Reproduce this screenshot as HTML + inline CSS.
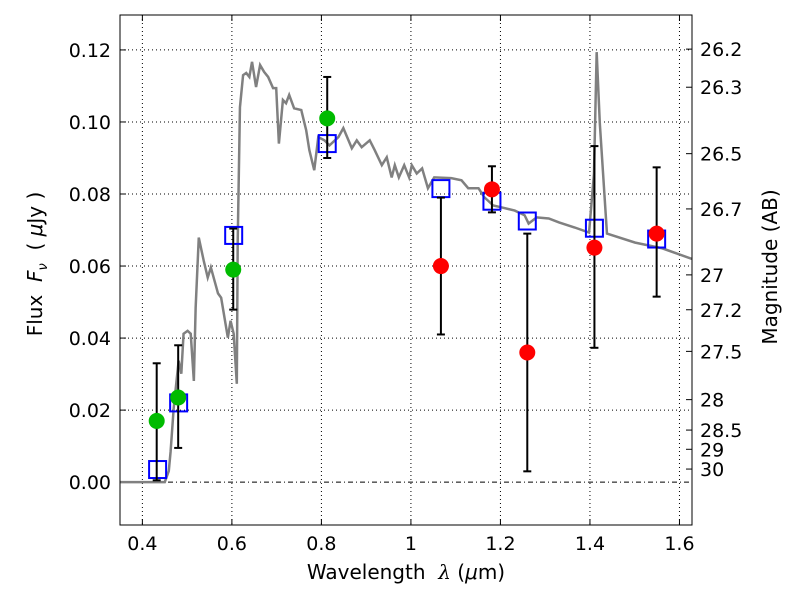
<!DOCTYPE html>
<html><head><meta charset="utf-8"><style>
body{margin:0;background:#fff}
svg text{font-family:"DejaVu Sans","Liberation Sans",sans-serif;font-size:19px;fill:#000}
</style></head><body>
<svg id="chart" width="800" height="600" xmlns="http://www.w3.org/2000/svg"></svg>
<script>
const specX=[0.35,0.450,0.459,0.463,0.470,0.481,0.487,0.492,0.501,0.508,0.515,0.519,0.526,0.537,0.546,0.553,0.569,0.576,0.591,0.597,0.604,0.611,0.613,0.618,0.625,0.632,0.639,0.645,0.654,0.663,0.672,0.681,0.692,0.699,0.705,0.714,0.721,0.728,0.739,0.755,0.766,0.773,0.784,0.793,0.807,0.818,0.838,0.849,0.868,0.879,0.890,0.908,0.919,0.935,0.946,0.957,0.964,0.973,0.985,0.996,1.002,1.013,1.025,1.038,1.052,1.090,1.113,1.128,1.151,1.164,1.184,1.202,1.232,1.254,1.263,1.281,1.308,1.331,1.366,1.398,1.409,1.415,1.422,1.438,1.501,1.562,1.634];
const specY=[0,0,0.0031,0.0084,0.0206,0.0337,0.0301,0.0412,0.0420,0.0412,0.0281,0.0484,0.0679,0.0615,0.0568,0.0596,0.0524,0.0512,0.0401,0.0448,0.0412,0.0273,0.0671,0.1041,0.1130,0.1136,0.1125,0.1167,0.1097,0.1158,0.1139,0.1125,0.1094,0.1094,0.0940,0.1061,0.1052,0.1075,0.1038,0.1033,0.0977,0.0922,0.0866,0.0958,0.0949,0.0935,0.0958,0.0983,0.0927,0.0949,0.0930,0.0949,0.0922,0.0880,0.0902,0.0846,0.0880,0.0846,0.0880,0.0846,0.0880,0.0857,0.0871,0.0816,0.0846,0.0844,0.0838,0.0816,0.0816,0.0791,0.0768,0.0763,0.0754,0.0741,0.0718,0.0735,0.0732,0.0721,0.0707,0.0693,0.0857,0.1194,0.0997,0.0690,0.0665,0.0649,0.0617];
const greenX=[0.432,0.480,0.603,0.813];
const greenY=[0.017,0.0235,0.059,0.101];
const greenLo=[0.0005,0.0095,0.0479,0.090];
const greenHi=[0.033,0.038,0.0704,0.1125];
const redX=[1.067,1.181,1.260,1.410,1.549];
const redY=[0.060,0.0813,0.036,0.0651,0.069];
const redLo=[0.041,0.0749,0.003,0.0373,0.0515];
const redHi=[0.079,0.0877,0.069,0.0933,0.0874];
const modelX=[0.434,0.481,0.604,0.813,1.067,1.181,1.260,1.410,1.549];
const modelY=[0.0035,0.022,0.0685,0.094,0.0815,0.078,0.0725,0.0705,0.0675];
const xTicks=[0.4,0.6,0.8,1.0,1.2,1.4,1.6];
const xTickLabels=["0.4","0.6","0.8","1","1.2","1.4","1.6"];
const yTicks=[0,0.02,0.04,0.06,0.08,0.10,0.12];
const yTickLabels=["0.00","0.02","0.04","0.06","0.08","0.10","0.12"];
const magTicks=[26.2,26.3,26.5,26.7,27,27.2,27.5,28,28.5,29,30];
const magLabels=["26.2","26.3","26.5","26.7","27","27.2","27.5","28","28.5","29","30"];

const L=120,R=692,T=15,B=525;
const xmin=0.35,xmax=1.628,ymin=-0.0119,ymax=0.1297;
const sx=v=>L+(v-xmin)/(xmax-xmin)*(R-L);
const sy=v=>B-(v-ymin)/(ymax-ymin)*(B-T);
const svg=document.getElementById('chart');
const NS='http://www.w3.org/2000/svg';
function mk(tag,attrs,parent){const e=document.createElementNS(NS,tag);for(const k in attrs)e.setAttribute(k,attrs[k]);(parent||svg).appendChild(e);return e;}

const cp=mk('clipPath',{id:'cp'});mk('rect',{x:L,y:T,width:R-L,height:B-T},cp);
xTicks.forEach((v,i)=>{
  const g=mk('line',{x1:sx(v),x2:sx(v),y1:T,y2:B,stroke:'#000','stroke-width':1,'stroke-dasharray':'1,3'});
  
  
  mk('line',{x1:sx(v),x2:sx(v),y1:B,y2:B-6,stroke:'#000'});
  mk('line',{x1:sx(v),x2:sx(v),y1:T,y2:T+6,stroke:'#000'});
  const t=mk('text',{x:sx(v),y:B+25,'text-anchor':'middle'});t.textContent=xTickLabels[i];
  
  
});
yTicks.forEach((v,i)=>{
  if(v!==0){
    const g=mk('line',{x1:L,x2:R,y1:sy(v),y2:sy(v),stroke:'#000','stroke-width':1,'stroke-dasharray':'1,3'});
    
    
  }
  mk('line',{x1:L,x2:L+6,y1:sy(v),y2:sy(v),stroke:'#000'});
  const t=mk('text',{x:L-9,y:sy(v)+7,'text-anchor':'end'});t.textContent=yTickLabels[i];
  
  
});
const zl=mk('line',{x1:L,x2:R,y1:sy(0),y2:sy(0),stroke:'#000','stroke-width':1,'stroke-dasharray':'5,3,1,3'});


magTicks.forEach((m,i)=>{
  const f=Math.pow(10,(23.9-m)/2.5);
  mk('line',{x1:R,x2:R-6,y1:sy(f),y2:sy(f),stroke:'#000'});
  const t=mk('text',{x:R+8,y:sy(f)+7});t.textContent=magLabels[i];
  
  
});
const sp=mk('polyline',{points:specX.map((x,i)=>sx(x)+','+sy(specY[i])).join(' '),fill:'none',stroke:'#808080','stroke-width':2.5,'clip-path':'url(#cp)'});


modelX.forEach((x,i)=>{
  const r=mk('rect',{x:sx(x)-8.5,y:sy(modelY[i])-8.5,width:17,height:17,fill:'none',stroke:'#0000ff','stroke-width':2});
  
  
});
function pts(xs,ys,lo,hi,color,name){
  xs.forEach((x,i)=>{
    const X=sx(x);
    mk('line',{x1:X,x2:X,y1:sy(lo[i]),y2:sy(hi[i]),stroke:'#000','stroke-width':2});
    mk('line',{x1:X-4,x2:X+4,y1:sy(lo[i]),y2:sy(lo[i]),stroke:'#000','stroke-width':2});
    mk('line',{x1:X-4,x2:X+4,y1:sy(hi[i]),y2:sy(hi[i]),stroke:'#000','stroke-width':2});
    const c=mk('circle',{cx:X,cy:sy(ys[i]),r:8,fill:color});
    
    
  });
}
pts(greenX,greenY,greenLo,greenHi,'#00bb00','green-flux-point');
pts(redX,redY,redLo,redHi,'#ff0000','red-flux-point');
const fr=mk('rect',{x:L,y:T,width:R-L,height:B-T,fill:'none',stroke:'#000','stroke-width':1});


</script>
<div style="position:absolute;left:0;top:560px;width:812px;text-align:center;font:20px 'DejaVu Sans',sans-serif">Wavelength&nbsp; <i style="font-family:'DejaVu Serif',serif">λ</i> (<i>μ</i>m)</div>
<div style="position:absolute;left:-63px;top:250px;width:200px;text-align:center;transform:rotate(-90deg);font:20px 'DejaVu Sans',sans-serif">Flux&nbsp; <i>F<sub style="font-size:13px">ν</sub></i>&nbsp; ( <i>μ</i>Jy )</div>
<div style="position:absolute;left:670px;top:255px;width:200px;text-align:center;transform:rotate(-90deg);font:20px 'DejaVu Sans',sans-serif">Magnitude (AB)</div>
</body></html>
